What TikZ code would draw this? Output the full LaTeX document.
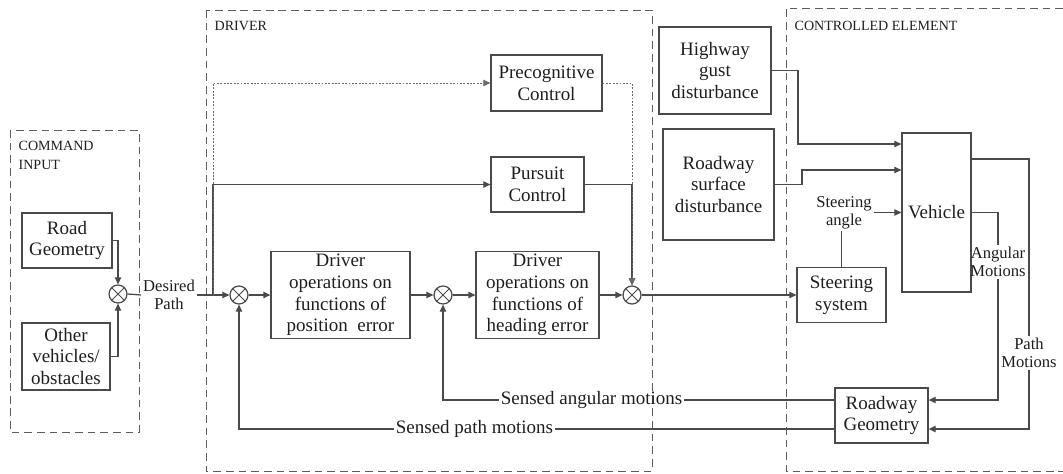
\documentclass[tikz,border=0pt]{standalone}
\usepackage{fontspec}
\setmainfont{Liberation Serif}
\usetikzlibrary{positioning}
\usetikzlibrary{arrows.meta}

\definecolor{linegray}{HTML}{4A4A4A}
\definecolor{framegray}{HTML}{5C5C5C}
\definecolor{dotgray}{HTML}{6A6A6A}
\definecolor{textgray}{HTML}{1E1E1E}

\newcommand{\boxfont}{\fontsize{13.5}{15.4}\selectfont}
\newcommand{\lblfont}{\fontsize{11.8}{12.8}\selectfont}

\begin{document}
\begin{tikzpicture}[x=0.025cm, y=-0.025cm, line width=0.9pt, color=linegray,
    >={Triangle[length=5pt,width=4.6pt]},
    every node/.append style={text=textgray},
    block/.style={draw=linegray, align=center, inner sep=1pt, font=\boxfont},
    sumnode/.style={draw=linegray, circle, minimum size=0.45cm, inner sep=0pt,
        path picture={\draw[line width=0.7pt]
            (path picture bounding box.north west) -- (path picture bounding box.south east)
            (path picture bounding box.north east) -- (path picture bounding box.south west);}},
    lbl/.style={align=center, inner sep=1pt, font=\lblfont},
    grp/.style={anchor=north west, align=left, inner sep=0pt, font=\fontsize{10}{13.5}\selectfont},
    frame/.style={draw=framegray, line width=0.7pt, dash pattern=on 5.5pt off 3.5pt},
    precogline/.style={draw=dotgray, line width=0.7pt, dash pattern=on 1.3pt off 1.1pt}]

    \useasboundingbox (0,0) rectangle (1063,473);

    % group frames
    \draw[frame] (10,130) rectangle (139,432);
    \draw[frame] (206,10) rectangle (652,471);
    \draw[frame] (1063,8) -| (786,471) -- (1063,471);

    \node[grp] (cmdtxt) at (18,141) {COMMAND\\INPUT};
    \node[grp] (drvtxt) at (214,21) {DRIVER};
    \node[grp] (ctltxt) at (794,20.5) {CONTROLLED ELEMENT};

    % command input
    \node[block, minimum width=2.25cm, minimum height=1.375cm] (road) at (67,240.5) {Road\\Geometry};
    \node[block, minimum width=2.2cm, minimum height=1.675cm] (other) at (66,356.5) {Other\\vehicles/\\obstacles};
    \node[sumnode] (s0) at (118,294) {};
    \node[lbl] (desired) at (169,295) {Desired\\Path};

    % driver
    \node[sumnode] (s1) at (239,295) {};
    \node[block, minimum width=3.475cm, minimum height=2.175cm] (pos) at (340.5,295) {Driver\\operations on\\functions of\\position~ error};
    \node[sumnode] (s2) at (443,295) {};
    \node[block, minimum width=3.075cm, minimum height=2.175cm] (head) at (537.5,295) {Driver\\operations on\\functions of\\heading error};
    \node[sumnode] (s3) at (632,295) {};
    \node[block, minimum width=2.775cm, minimum height=1.4cm] (precog) at (546.5,83) {Precognitive\\Control};
    \node[block, minimum width=2.325cm, minimum height=1.375cm] (pursuit) at (537.5,184.5) {Pursuit\\Control};
    \coordinate (tap) at (213,295);

    % disturbances and controlled element
    \node[block, minimum width=2.8cm, minimum height=2.175cm] (gust) at (715,70.5) {Highway\\gust\\disturbance};
    \node[block, minimum width=2.775cm, minimum height=2.775cm] (surface) at (718.5,184.5) {Roadway\\surface\\disturbance};
    \node[block, minimum width=1.725cm, minimum height=3.975cm] (vehicle) at (936.5,212.5) {Vehicle};
    \node[block, minimum width=2.225cm, minimum height=1.375cm] (steer) at (841.5,295) {Steering\\system};
    \node[block, minimum width=2.325cm, minimum height=1.375cm] (roadgeo) at (881.5,415.5) {Roadway\\Geometry};

    \node[lbl] (angle) at (844,212.5) {Steering\\angle};
    \node[lbl] (angmot) at (998,262) {Angular\\Motions};
    \node[lbl] (pathmot) at (1029,353) {Path\\Motions};
    \node[lbl, font=\boxfont] (sensang) at (591.5,400) {Sensed angular motions};
    \node[lbl, font=\boxfont] (senspath) at (474.5,429) {Sensed path motions};

    % desired path
    \draw[->] (road.east) -| (s0.north);
    \draw[->] (other.east) -| (s0.south);
    \draw (s0.east) -- (desired.west);
    \draw[->] (desired.east) -- (s1.west);

    % pursuit and precognitive branches
    \draw[->] (tap) |- (pursuit.west);
    \draw[->, precogline] (tap) |- (precog.west);
    \draw[->] (pursuit.east) -| (s3.north);
    \draw[->, precogline] (precog.east) -| (s3.north);

    % compensatory loop
    \draw[->] (s1.east) -- (pos.west);
    \draw[->] (pos.east) -- (s2.west);
    \draw[->] (s2.east) -- (head.west);
    \draw[->] (head.east) -- (s3.west);
    \draw[->] (s3.east) -- (steer.west);

    % into the vehicle
    \draw[->] (gust.east) -| (798,144) -- (vehicle.west |- 0,144);
    \draw[->] (surface.east) -| (802,170) -- (vehicle.west |- 0,170);
    \draw (steer.north) -- (steer.north |- angle.south);
    \draw[->] (angle.east) -- (vehicle.west |- angle.east);

    % vehicle motions
    \draw (vehicle.east |- 0,159) -| (pathmot.north);
    \draw[->] (pathmot.south) |- (roadgeo.east |- 0,429);
    \draw (vehicle.east) -| (angmot.north);
    \draw[->] (angmot.south) |- (roadgeo.east |- 0,400);

    % sensed feedback
    \draw (roadgeo.west |- 0,400) -- (sensang.east);
    \draw[->] (sensang.west) -| (s2.south);
    \draw (roadgeo.west |- 0,429) -- (senspath.east);
    \draw[->] (senspath.west) -| (s1.south);

\end{tikzpicture}
\end{document}
